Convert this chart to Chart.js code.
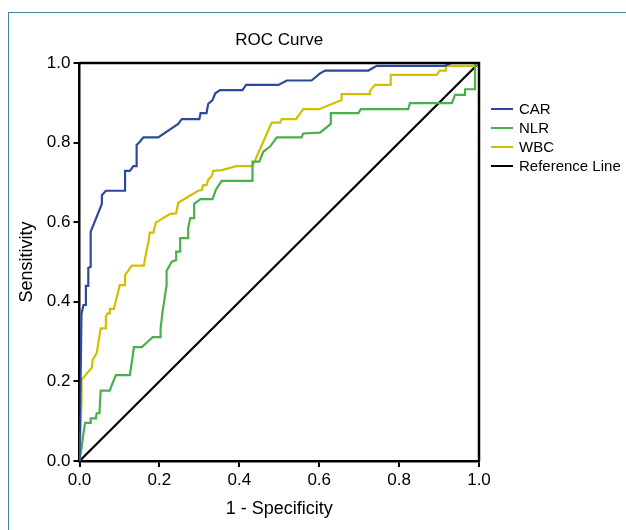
<!DOCTYPE html>
<html>
<head>
<meta charset="utf-8">
<title>ROC Curve</title>
<script src="https://cdn.jsdelivr.net/npm/chart.js@4.4.1/dist/chart.umd.min.js"></script>
<style>
    html, body { margin: 0; padding: 0; background: #fff; }
    #wrap { position: relative; width: 626px; height: 530px; overflow: hidden; }
    #frame { position: absolute; left: 8px; top: 12px; width: 700px; height: 600px;
             border-left: 1px solid #3a8890; border-top: 1px solid #3a8890; }
    canvas { position: absolute; left: 0; top: 0; }
</style>
</head>
<body>
<div id="wrap">
    <div id="frame"></div>
    <canvas id="rocChart" width="626" height="530"></canvas>
</div>
<script>
// values: 1 - specificity (x) and sensitivity (y)
const carFpr = [0, 0.005, 0.01, 0.016, 0.016, 0.022, 0.022, 0.028, 0.028, 0.056, 0.056, 0.066, 0.114, 0.114,
    0.126, 0.135, 0.143, 0.143, 0.151, 0.16, 0.197, 0.247, 0.256, 0.3, 0.303, 0.318, 0.322, 0.333, 0.34,
    0.352, 0.408, 0.417, 0.498, 0.519, 0.581, 0.602, 0.615, 0.723, 0.744, 0.915, 0.93, 1];
const carTpr = [0, 0.37, 0.392, 0.392, 0.44, 0.44, 0.485, 0.488, 0.576, 0.646, 0.668, 0.679, 0.679, 0.729,
    0.729, 0.741, 0.741, 0.794, 0.802, 0.813, 0.813, 0.847, 0.859, 0.859, 0.874, 0.874, 0.897, 0.907, 0.924,
    0.932, 0.932, 0.945, 0.945, 0.956, 0.956, 0.974, 0.981, 0.981, 0.993, 0.993, 1, 1];

const nlrFpr = [0, 0.005, 0.01, 0.014, 0.028, 0.028, 0.041, 0.043, 0.05, 0.053, 0.076, 0.081, 0.091, 0.126,
    0.133, 0.136, 0.156, 0.168, 0.183, 0.202, 0.203, 0.208, 0.218, 0.218, 0.231, 0.242, 0.242, 0.252, 0.252,
    0.272, 0.272, 0.277, 0.287, 0.287, 0.303, 0.333, 0.342, 0.356, 0.433, 0.433, 0.45, 0.46, 0.477, 0.494,
    0.556, 0.56, 0.602, 0.629, 0.629, 0.698, 0.704, 0.823, 0.827, 0.932, 0.94, 0.965, 0.965, 0.99, 0.99, 1];
const nlrTpr = [0, 0.032, 0.07, 0.096, 0.096, 0.107, 0.107, 0.12, 0.12, 0.177, 0.177, 0.191, 0.216, 0.216,
    0.262, 0.286, 0.286, 0.297, 0.311, 0.311, 0.333, 0.375, 0.442, 0.478, 0.501, 0.505, 0.526, 0.526, 0.56,
    0.56, 0.585, 0.61, 0.61, 0.646, 0.658, 0.658, 0.683, 0.704, 0.704, 0.752, 0.752, 0.777, 0.79, 0.813,
    0.813, 0.823, 0.825, 0.847, 0.874, 0.874, 0.884, 0.884, 0.899, 0.899, 0.92, 0.92, 0.934, 0.934, 0.999, 1];

const wbcFpr = [0, 0.005, 0.005, 0.031, 0.033, 0.043, 0.053, 0.066, 0.066, 0.07, 0.076, 0.076, 0.086, 0.101,
    0.114, 0.114, 0.131, 0.161, 0.168, 0.172, 0.176, 0.185, 0.191, 0.227, 0.242, 0.247, 0.297, 0.306, 0.31,
    0.318, 0.322, 0.331, 0.335, 0.356, 0.393, 0.433, 0.481, 0.502, 0.506, 0.542, 0.56, 0.6, 0.656, 0.656,
    0.727, 0.727, 0.74, 0.779, 0.779, 0.894, 0.902, 0.915, 0.917, 0.99, 1];
const wbcTpr = [0, 0.149, 0.204, 0.235, 0.254, 0.271, 0.333, 0.333, 0.363, 0.371, 0.371, 0.382, 0.382, 0.442,
    0.442, 0.467, 0.491, 0.491, 0.53, 0.548, 0.574, 0.574, 0.599, 0.621, 0.622, 0.649, 0.679, 0.681, 0.693,
    0.693, 0.706, 0.716, 0.729, 0.731, 0.741, 0.741, 0.85, 0.85, 0.859, 0.859, 0.884, 0.884, 0.907, 0.922,
    0.922, 0.93, 0.945, 0.945, 0.97, 0.97, 0.981, 0.981, 0.993, 0.993, 1];

const refFpr = [0, 1];
const refTpr = [0, 1];

const axisTicks = [0, 0.2, 0.4, 0.6, 0.8, 1.0];

function toPoints(xs, ys) {
    return xs.map((x, i) => ({ x: x, y: ys[i] }));
}

const fontFamily = '"Liberation Sans", Arial, Helvetica, sans-serif';

// box on the top and right of the plot, plus the legend beside it
const plotBox = {
    id: 'plotBox',
    afterDraw(chart) {
        const c = chart.ctx;
        const a = chart.chartArea;
        c.save();
        c.strokeStyle = '#000';
        c.lineWidth = 2.5;
        c.beginPath();
        c.moveTo(a.left, a.top);
        c.lineTo(a.right, a.top);
        c.lineTo(a.right, a.bottom);
        c.stroke();

        c.font = '15px ' + fontFamily;
        c.textBaseline = 'middle';
        c.textAlign = 'left';
        chart.data.datasets.forEach((ds, i) => {
            const y = a.top + 46 + i * 19;
            c.strokeStyle = ds.borderColor;
            c.lineWidth = 2;
            c.beginPath();
            c.moveTo(a.right + 12, y);
            c.lineTo(a.right + 34, y);
            c.stroke();
            c.fillStyle = '#000';
            c.fillText(ds.label, a.right + 40, y + 1);
        });
        c.restore();
    }
};

const lineSet = (label, data, color) => ({
    label: label,
    data: data,
    borderColor: color,
    backgroundColor: color,
    showLine: true,
    pointRadius: 0,
    borderWidth: 2.2,
    fill: false,
    tension: 0
});

const tickFont = { family: fontFamily, size: 17 };
const titleFont = { family: fontFamily, size: 18 };

const ctx = document.getElementById('rocChart').getContext('2d');
new Chart(ctx, {
    type: 'scatter',
    data: {
        datasets: [
            lineSet('CAR', toPoints(carFpr, carTpr), '#2b4a9f'),
            lineSet('NLR', toPoints(nlrFpr, nlrTpr), '#48b04d'),
            lineSet('WBC', toPoints(wbcFpr, wbcTpr), '#d2c000'),
            lineSet('Reference Line', toPoints(refFpr, refTpr), '#000000')
        ]
    },
    options: {
        responsive: false,
        animation: false,
        layout: { padding: { left: 0, top: 0, right: 147, bottom: 0 } },
        plugins: {
            legend: { display: false },
            tooltip: { enabled: false },
            title: {
                display: true,
                text: 'ROC Curve',
                fullSize: false,
                color: '#000',
                font: { family: fontFamily, size: 17, weight: 'normal' },
                padding: { top: 30, bottom: 12.6 }
            }
        },
        scales: {
            x: {
                type: 'linear',
                min: 0,
                max: 1,
                afterBuildTicks: s => { s.ticks = axisTicks.map(v => ({ value: v })); },
                afterFit: s => { s.height = 69; },
                ticks: { callback: v => v.toFixed(1), color: '#000', font: tickFont, padding: 3, maxRotation: 0 },
                grid: { drawOnChartArea: false, drawTicks: true, tickLength: 6, color: '#000', lineWidth: 2 },
                border: { display: true, color: '#000', width: 2.5 },
                title: { display: true, text: '1 - Specificity', color: '#000', font: titleFont, padding: { top: 0, bottom: 10 } }
            },
            y: {
                type: 'linear',
                min: 0,
                max: 1,
                afterBuildTicks: s => { s.ticks = axisTicks.map(v => ({ value: v })); },
                afterFit: s => { s.width = 79.5; },
                ticks: { callback: v => v.toFixed(1), color: '#000', font: tickFont, padding: 3 },
                grid: { drawOnChartArea: false, drawTicks: true, tickLength: 6, color: '#000', lineWidth: 2 },
                border: { display: true, color: '#000', width: 2.5 },
                title: { display: true, text: 'Sensitivity', color: '#000', font: titleFont, padding: { top: 16, bottom: 0 } }
            }
        }
    },
    plugins: [plotBox]
});
</script>
</body>
</html>
